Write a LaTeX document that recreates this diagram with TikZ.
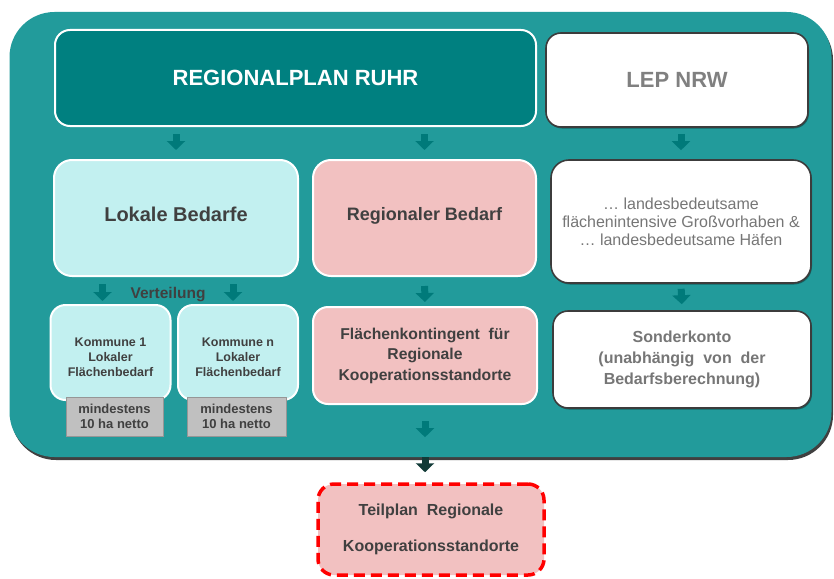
\documentclass[tikz,border=0pt]{standalone}
\usepackage{fontspec}
\setmainfont{Liberation Sans}
\usetikzlibrary{arrows.meta,shadows}
\definecolor{outerteal}{RGB}{34,155,155}
\definecolor{rpteal}{RGB}{0,128,128}
\definecolor{arrowteal}{RGB}{0,122,122}
\definecolor{darkarrow}{RGB}{18,58,55}
\definecolor{lightcyan}{RGB}{194,240,240}
\definecolor{lightpink}{RGB}{242,193,193}
\definecolor{boxgray}{RGB}{192,192,192}
\definecolor{boxgrayedge}{RGB}{150,150,150}
\definecolor{edgegray}{RGB}{60,60,60}
\definecolor{textdark}{RGB}{64,64,64}
\definecolor{textlight}{RGB}{118,118,118}
\definecolor{lepgray}{RGB}{128,128,128}
\begin{document}
\begin{tikzpicture}[x=1pt,y=-1pt,
  box/.style={rounded corners=16pt, align=center, inner sep=0pt, font=\bfseries, text=textdark},
  lightedge/.style={draw=white, line width=2pt},
  darkedge/.style={draw=edgegray, line width=1.6pt, fill=white,
    drop shadow={shadow xshift=1pt, shadow yshift=-1.5pt, fill=black, opacity=0.35}},
  graybox/.style={fill=boxgray, draw=boxgrayedge, line width=1pt, align=center, inner sep=0pt, text=textdark},
  blockarr/.style={draw=arrowteal, line width=7pt, -{Triangle[width=18pt,length=9pt,fill=arrowteal]}},
  darkarr/.style={draw=darkarrow, line width=7pt, -{Triangle[width=18pt,length=9pt,fill=darkarrow]}},
]
\useasboundingbox (0,0) rectangle (834,578);

% outer container
\node[rounded corners=45pt, fill=outerteal, minimum width=822pt, minimum height=445pt, inner sep=0pt,
  drop shadow={shadow xshift=1.5pt, shadow yshift=-3pt, fill=black, opacity=0.75}] (outer) at (420.5,234.5) {};

% top row
\node[box, lightedge, fill=rpteal, text=white, rounded corners=15pt, minimum width=481pt, minimum height=96pt,
  font=\bfseries\fontsize{22}{26}\selectfont] (rp) at (295.5,78) {REGIONALPLAN RUHR};
\node[box, darkedge, text=lepgray, rounded corners=15pt, minimum width=262pt, minimum height=94pt,
  font=\bfseries\fontsize{22}{26}\selectfont] (lep) at (677,80) {LEP NRW};

% second row
\node[box, lightedge, fill=lightcyan, rounded corners=18pt, minimum width=244pt, minimum height=116pt,
  text depth=8pt, font=\bfseries\fontsize{20}{24}\selectfont] (lok) at (176,218) {Lokale Bedarfe};
\node[box, lightedge, fill=lightpink, rounded corners=18pt, minimum width=223pt, minimum height=116pt,
  text depth=9pt, font=\bfseries\fontsize{18}{22}\selectfont] (reg) at (424.5,218) {Regionaler Bedarf};
\node[box, darkedge, text=textlight, rounded corners=18pt, minimum width=260pt, minimum height=123pt,
  font=\fontsize{16}{18}\selectfont] (lan) at (681,221.5)
  {\dots\ landesbedeutsame\\flächenintensive Großvorhaben \&\\\dots\ landesbedeutsame Häfen};

% third row
\node[box, lightedge, fill=lightcyan, rounded corners=15pt, minimum width=120pt, minimum height=95pt,
  text height=48pt, text depth=0pt, font=\bfseries\fontsize{12.5}{15}\selectfont] (k1) at (110.5,352.5) {Kommune 1\\Lokaler\\Flächenbedarf};
\node[box, lightedge, fill=lightcyan, rounded corners=15pt, minimum width=120pt, minimum height=95pt,
  text height=48pt, text depth=0pt, font=\bfseries\fontsize{12.5}{15}\selectfont] (kn) at (238,352.5) {Kommune n\\Lokaler\\Flächenbedarf};
\node[graybox, minimum width=97pt, minimum height=39pt, font=\bfseries\fontsize{13}{15.5}\selectfont]
  (g1) at (114.5,416.5) {mindestens\\10 ha netto};
\node[graybox, minimum width=99pt, minimum height=39pt, font=\bfseries\fontsize{13}{15.5}\selectfont]
  (gn) at (236.5,416.5) {mindestens\\10 ha netto};
\node[box, lightedge, fill=lightpink, rounded corners=15pt, minimum width=224pt, minimum height=97pt,
  font=\bfseries\fontsize{15.7}{20.5}\selectfont] (fk) at (425,355.5)
  {Flächenkontingent\ \ für\\Regionale\\Kooperationsstandorte};
\node[box, darkedge, text=textlight, rounded corners=15pt, minimum width=258pt, minimum height=97pt,
  font=\bfseries\fontsize{16}{21}\selectfont] (sk) at (682,359.5)
  {Sonderkonto\\(unabhängig\ \ von\ \ der\\Bedarfsberechnung)};

\node[font=\bfseries\fontsize{15.5}{18}\selectfont, text=textdark, inner sep=0pt] (vt) at (168,295) {Verteilung};

% bottom box
\node[box, fill=lightpink, draw=red, line width=3.5pt, dash pattern=on 11pt off 6pt, rounded corners=16pt,
  minimum width=226pt, minimum height=91pt, font=\bfseries\fontsize{16}{36}\selectfont] (tp) at (431,529.5)
  {Teilplan\ \ Regionale\\Kooperationsstandorte};

% arrows
\draw[blockarr, shorten <=7pt, shorten >=9pt] (lok.north |- rp.south) -- (lok.north);
\draw[blockarr, shorten <=7pt, shorten >=9pt] (reg.north |- rp.south) -- (reg.north);
\draw[blockarr, shorten <=6pt, shorten >=9pt] (lan.north |- lep.south) -- (lan.north);
\draw[blockarr, shorten <=7pt, shorten >=3pt] ([xshift=-8pt]k1.north |- lok.south) -- ([xshift=-8pt]k1.north);
\draw[blockarr, shorten <=7pt, shorten >=3pt] ([xshift=-5pt]kn.north |- lok.south) -- ([xshift=-5pt]kn.north);
\draw[blockarr, shorten <=9pt, shorten >=4pt] (reg.south) -- (fk.north);
\draw[blockarr, shorten <=5pt, shorten >=6pt] (lan.south) -- (sk.north);
\draw[blockarr, shorten <=16pt, shorten >=20pt] (fk.south) -- (fk.south |- outer.south);
\draw[darkarr, shorten <=0pt, shorten >=10pt] (fk.south |- outer.south) -- (fk.south |- tp.north);
\end{tikzpicture}
\end{document}
